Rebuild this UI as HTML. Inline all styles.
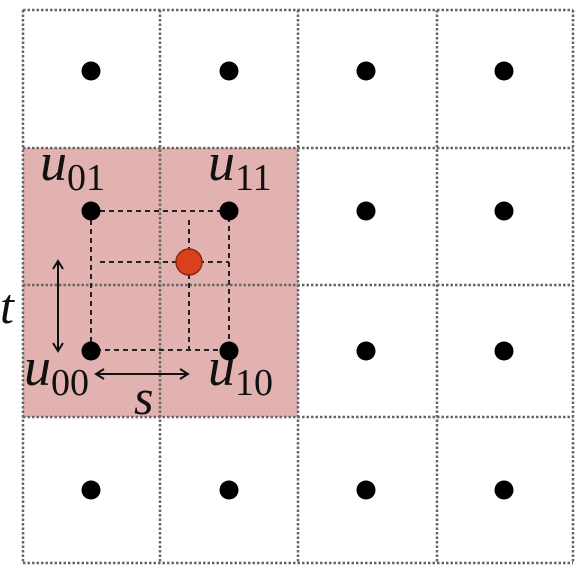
<!DOCTYPE html>
<html><head><meta charset="utf-8"><style>
html,body{margin:0;padding:0;background:#fff;}
svg{display:block}
text{font-family:"Liberation Serif",serif;font-style:italic;fill:#111}
</style></head><body>
<svg width="588" height="577" viewBox="0 0 588 577">
<rect x="23" y="148" width="275" height="269" fill="#e2b2b0"/>
<g stroke="#666" stroke-width="2.5" stroke-dasharray="2.5,2" fill="none">
<line x1="23" y1="10" x2="23" y2="563"/><line x1="160" y1="10" x2="160" y2="563"/><line x1="298" y1="10" x2="298" y2="563"/><line x1="437" y1="10" x2="437" y2="563"/><line x1="573" y1="10" x2="573" y2="563"/>
<line x1="23" y1="10" x2="573" y2="10"/><line x1="23" y1="148" x2="573" y2="148"/><line x1="23" y1="285" x2="573" y2="285"/><line x1="23" y1="417" x2="573" y2="417"/><line x1="23" y1="563" x2="573" y2="563"/>
</g>
<g stroke="#222" stroke-width="2" stroke-dasharray="5,4" fill="none">
<rect x="91" y="211" width="138" height="139"/>
<line x1="189" y1="220" x2="189" y2="350"/>
<line x1="100" y1="262" x2="229" y2="262"/>
</g>
<g fill="#000" id="pts"></g>
<circle cx="189" cy="262" r="13" fill="#d9401c" stroke="#8a2a10" stroke-width="1.5"/>
<g stroke="#111" stroke-width="2" fill="none">
<line x1="58" y1="262" x2="58" y2="350"/>
<polyline points="53,269 58,261 63,269"/><polyline points="53,343 58,351 63,343"/>
<line x1="97" y1="374" x2="187" y2="374"/>
<polyline points="104,369 96,374 104,379"/><polyline points="180,369 188,374 180,379"/>
</g>
<text x="40" y="180" font-size="54">u<tspan font-style="normal" font-size="38" dy="10">01</tspan></text>
<text x="208" y="180" font-size="54">u<tspan font-style="normal" font-size="38" dy="10">11</tspan></text>
<text x="24" y="385" font-size="54">u<tspan font-style="normal" font-size="38" dy="10">00</tspan></text>
<text x="208" y="385" font-size="54">u<tspan font-style="normal" font-size="38" dy="10">10</tspan></text>
<text x="0" y="323" font-size="50">t</text>
<text x="134" y="414" font-size="50">s</text>
</svg>
<script>
const xs=[91,229,366,504];
const ys=[71,211,351,490];
const g=document.getElementById('pts');
ys.forEach(y=>xs.forEach(x=>{
const c=document.createElementNS('http://www.w3.org/2000/svg','circle');


c.setAttribute('cx',x);c.setAttribute('cy',y);c.setAttribute('r',9.5);
g.appendChild(c);
}));
</script>
</body></html>
